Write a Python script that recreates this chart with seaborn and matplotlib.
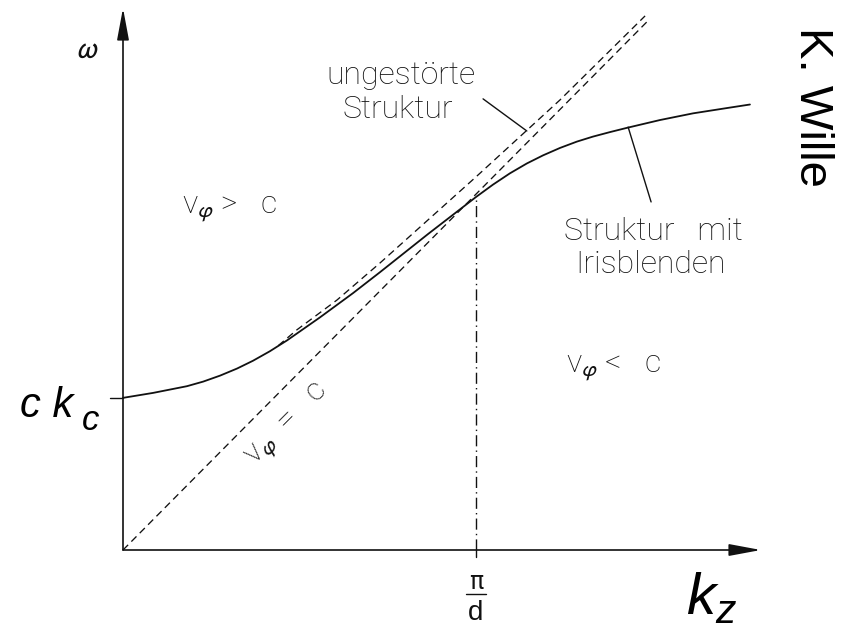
import matplotlib
matplotlib.use("Agg")
import matplotlib.pyplot as plt
import seaborn as sns

# ---- data (k in units of pi/d, omega in units of c*pi/d) ----
k_struct = [0.000, 0.085, 0.181, 0.227, 0.275, 0.323, 0.368, 0.416, 0.465, 0.558,
            0.652, 0.728, 0.864, 1.000, 1.048, 1.096, 1.144, 1.190, 1.238, 1.286,
            1.331, 1.380, 1.428, 1.521, 1.615, 1.711, 1.776]
w_struct = [0.431, 0.445, 0.464, 0.477, 0.494, 0.514, 0.536, 0.563, 0.594, 0.659,
            0.728, 0.787, 0.895, 1.000, 1.035, 1.067, 1.095, 1.118, 1.139, 1.157,
            1.171, 1.184, 1.196, 1.218, 1.237, 1.252, 1.262]
k_unpert = [0.440, 0.493, 0.606, 0.728, 1.000, 1.238, 1.479]
w_unpert = [0.579, 0.624, 0.708, 0.813, 1.057, 1.275, 1.513]
k_light = [0.0, 1.484]
w_light = [0.0, 1.496]
k_pid = 1.0
w_ckc = 0.431
x_axis_end = 1.807
y_axis_end = 1.535

sns.set_theme(style="white")
plt.rcParams["font.family"] = ["Roboto", "DejaVu Sans"]
plt.rcParams["mathtext.fontset"] = "custom"
plt.rcParams["mathtext.rm"] = "Liberation Sans"
plt.rcParams["mathtext.it"] = "Liberation Sans:italic"

fig = plt.figure(figsize=(8.46, 6.31), dpi=100)
ax = fig.add_axes([0, 0, 1, 1])
ax.set_xlim(-123 / 353, 723 / 353)
ax.set_ylim(-81 / 353, 550 / 353)
ax.axis("off")

ink = "#111111"

# axes arrows
arrow_kw = dict(arrowstyle="-|>,head_length=1.5,head_width=0.28", color=ink,
                lw=1.2, mutation_scale=13, shrinkA=0, shrinkB=0)
ax.annotate("", xy=(x_axis_end, 0), xytext=(0, 0), arrowprops=arrow_kw)
ax.annotate("", xy=(0, y_axis_end), xytext=(0, 0), arrowprops=arrow_kw)

# curves
sns.lineplot(x=k_struct, y=w_struct, ax=ax, color=ink, lw=1.3, sort=False, estimator=None)
sns.lineplot(x=k_unpert, y=w_unpert, ax=ax, color=ink, lw=0.95, sort=False, estimator=None,
             linestyle=(0, (5.5, 3.5)))
sns.lineplot(x=k_light, y=w_light, ax=ax, color=ink, lw=0.95, sort=False, estimator=None,
             linestyle=(0, (5.5, 3.5)))
ax.vlines(k_pid, 0, 1.0, color=ink, lw=1.0, linestyles=[(0, (8, 3, 1, 3))])

# ticks
ax.plot([-0.037, 0], [w_ckc, w_ckc], color=ink, lw=1.0)
ax.plot([k_pid, k_pid], [-0.02, 0], color=ink, lw=1.0)

# leader lines
ax.plot([1.020, 1.144], [1.278, 1.187], color=ink, lw=1.0)
ax.plot([1.431, 1.496], [1.198, 0.986], color=ink, lw=1.0)

lab = dict(fontsize=23, color=ink, fontweight="light", family=["Roboto", "DejaVu Sans"])
sub = dict(math_fontfamily="stixsans")

ax.text(-0.102, 1.418, r"$\omega$", fontsize=23, ha="center", va="center",
        color=ink, math_fontfamily="stixsans")
ax.text(0.788, 1.320, "ungestörte", ha="center", va="baseline", **lab)
ax.text(0.779, 1.224, "Struktur", ha="center", va="baseline", **lab)
ax.text(0.167, 0.955, r"v$_{\varphi}$ >   c", ha="left", va="baseline", **sub, **lab)
ax.text(1.255, 0.504, r"v$_{\varphi}$ <   c", ha="left", va="baseline", **sub, **lab)
ax.text(1.502, 0.878, "Struktur   mit", ha="center", va="baseline", **lab)
ax.text(1.493, 0.785, "Irisblenden", ha="center", va="baseline", **lab)
ax.text(0.467, 0.352, r"v$_{\varphi}$  =   c", ha="center", va="center", rotation=45,
        rotation_mode="anchor", **sub, **lab)

# pi/d fraction
ax.text(k_pid, -0.110, "π", ha="center", va="baseline", fontsize=17, color=ink,
        family=["DejaVu Sans"])
ax.plot([0.972, 1.028], [-0.125, -0.125], color=ink, lw=1.0)
ax.text(k_pid, -0.198, "d", ha="center", va="baseline", fontsize=20, color=ink,
        family=["Liberation Sans"])

# big labels
big = dict(color="black", family=["Liberation Sans"], style="italic")
ax.text(-0.292, 0.377, "c k", ha="left", va="baseline", fontsize=30, **big)
ax.text(-0.116, 0.340, "c", ha="left", va="baseline", fontsize=25, **big)
ax.text(1.595, -0.180, r"$k_z$", ha="left", va="baseline", fontsize=42, color="black",
        math_fontfamily="custom")
ax.text(1.918, 1.482, "K. Wille", ha="left", va="baseline", rotation=-90,
        rotation_mode="anchor", fontsize=34, color="black", family=["Liberation Sans"])

fig.savefig("out.png", dpi=100)
